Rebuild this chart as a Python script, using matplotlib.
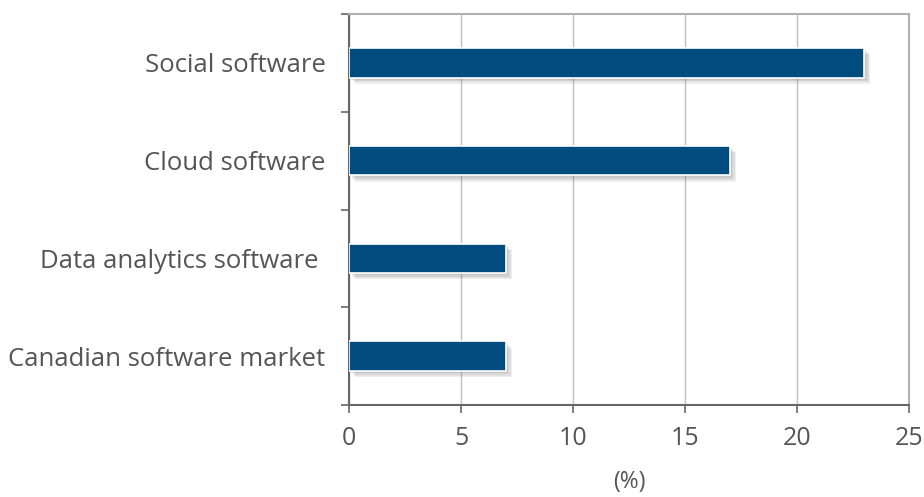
import matplotlib.pyplot as plt
import matplotlib.patheffects as pe
import numpy as np

categories = ['Canadian software market', 'Data analytics software ', 'Cloud software', 'Social software']
values = [7, 7, 17, 23]
x_ticks = [0, 5, 10, 15, 20, 25]

plt.rcParams['font.family'] = ['Open Sans', 'DejaVu Sans']

fig = plt.figure(figsize=(9.24, 4.97), dpi=100)
ax = fig.add_axes([349 / 924, 1 - 405 / 497, 560 / 924, 391 / 497])

text_col = '#555555'
pos = np.arange(len(categories))
bars = ax.barh(pos, values, height=0.3, color='#004c7f', edgecolor='white', linewidth=1.2, zorder=3)
# soft drop shadow: a few stacked offsets
shadow = [pe.SimplePatchShadow(offset=(d, -d), shadow_rgbFace='#777777', alpha=0.12) for d in (1.5, 2.5, 3.5, 4.5)]
for b in bars:
    b.set_path_effects(shadow + [pe.Normal()])

ax.set_xlim(0, 25)
ax.set_ylim(-0.5, len(categories) - 0.5)
ax.set_xticks(x_ticks)
ax.set_yticks(np.arange(-0.5, len(categories), 1.0))
ax.set_yticklabels([])
ax.set_yticks(pos, minor=True)
ax.set_yticklabels(categories, minor=True)
ax.tick_params(axis='y', which='minor', length=0, pad=17, labelsize=18.5, labelcolor=text_col)
ax.tick_params(axis='y', which='major', length=6, width=1.2, color='#666666', direction='out')
ax.tick_params(axis='x', length=6, width=1.2, color='#666666', direction='out', labelsize=18, labelcolor=text_col, pad=9)

ax.grid(axis='x', color='#c0c0c0', linewidth=1, zorder=0)
ax.set_axisbelow(True)
for s in ['top', 'right']:
    ax.spines[s].set_color('#b0b0b0')
    ax.spines[s].set_linewidth(1.5)
for s in ['left', 'bottom']:
    ax.spines[s].set_color('#666666')
    ax.spines[s].set_linewidth(1.5)

ax.set_xlabel('(%)', fontsize=16.5, color=text_col, labelpad=14)

fig.savefig('out.png', dpi=100)
